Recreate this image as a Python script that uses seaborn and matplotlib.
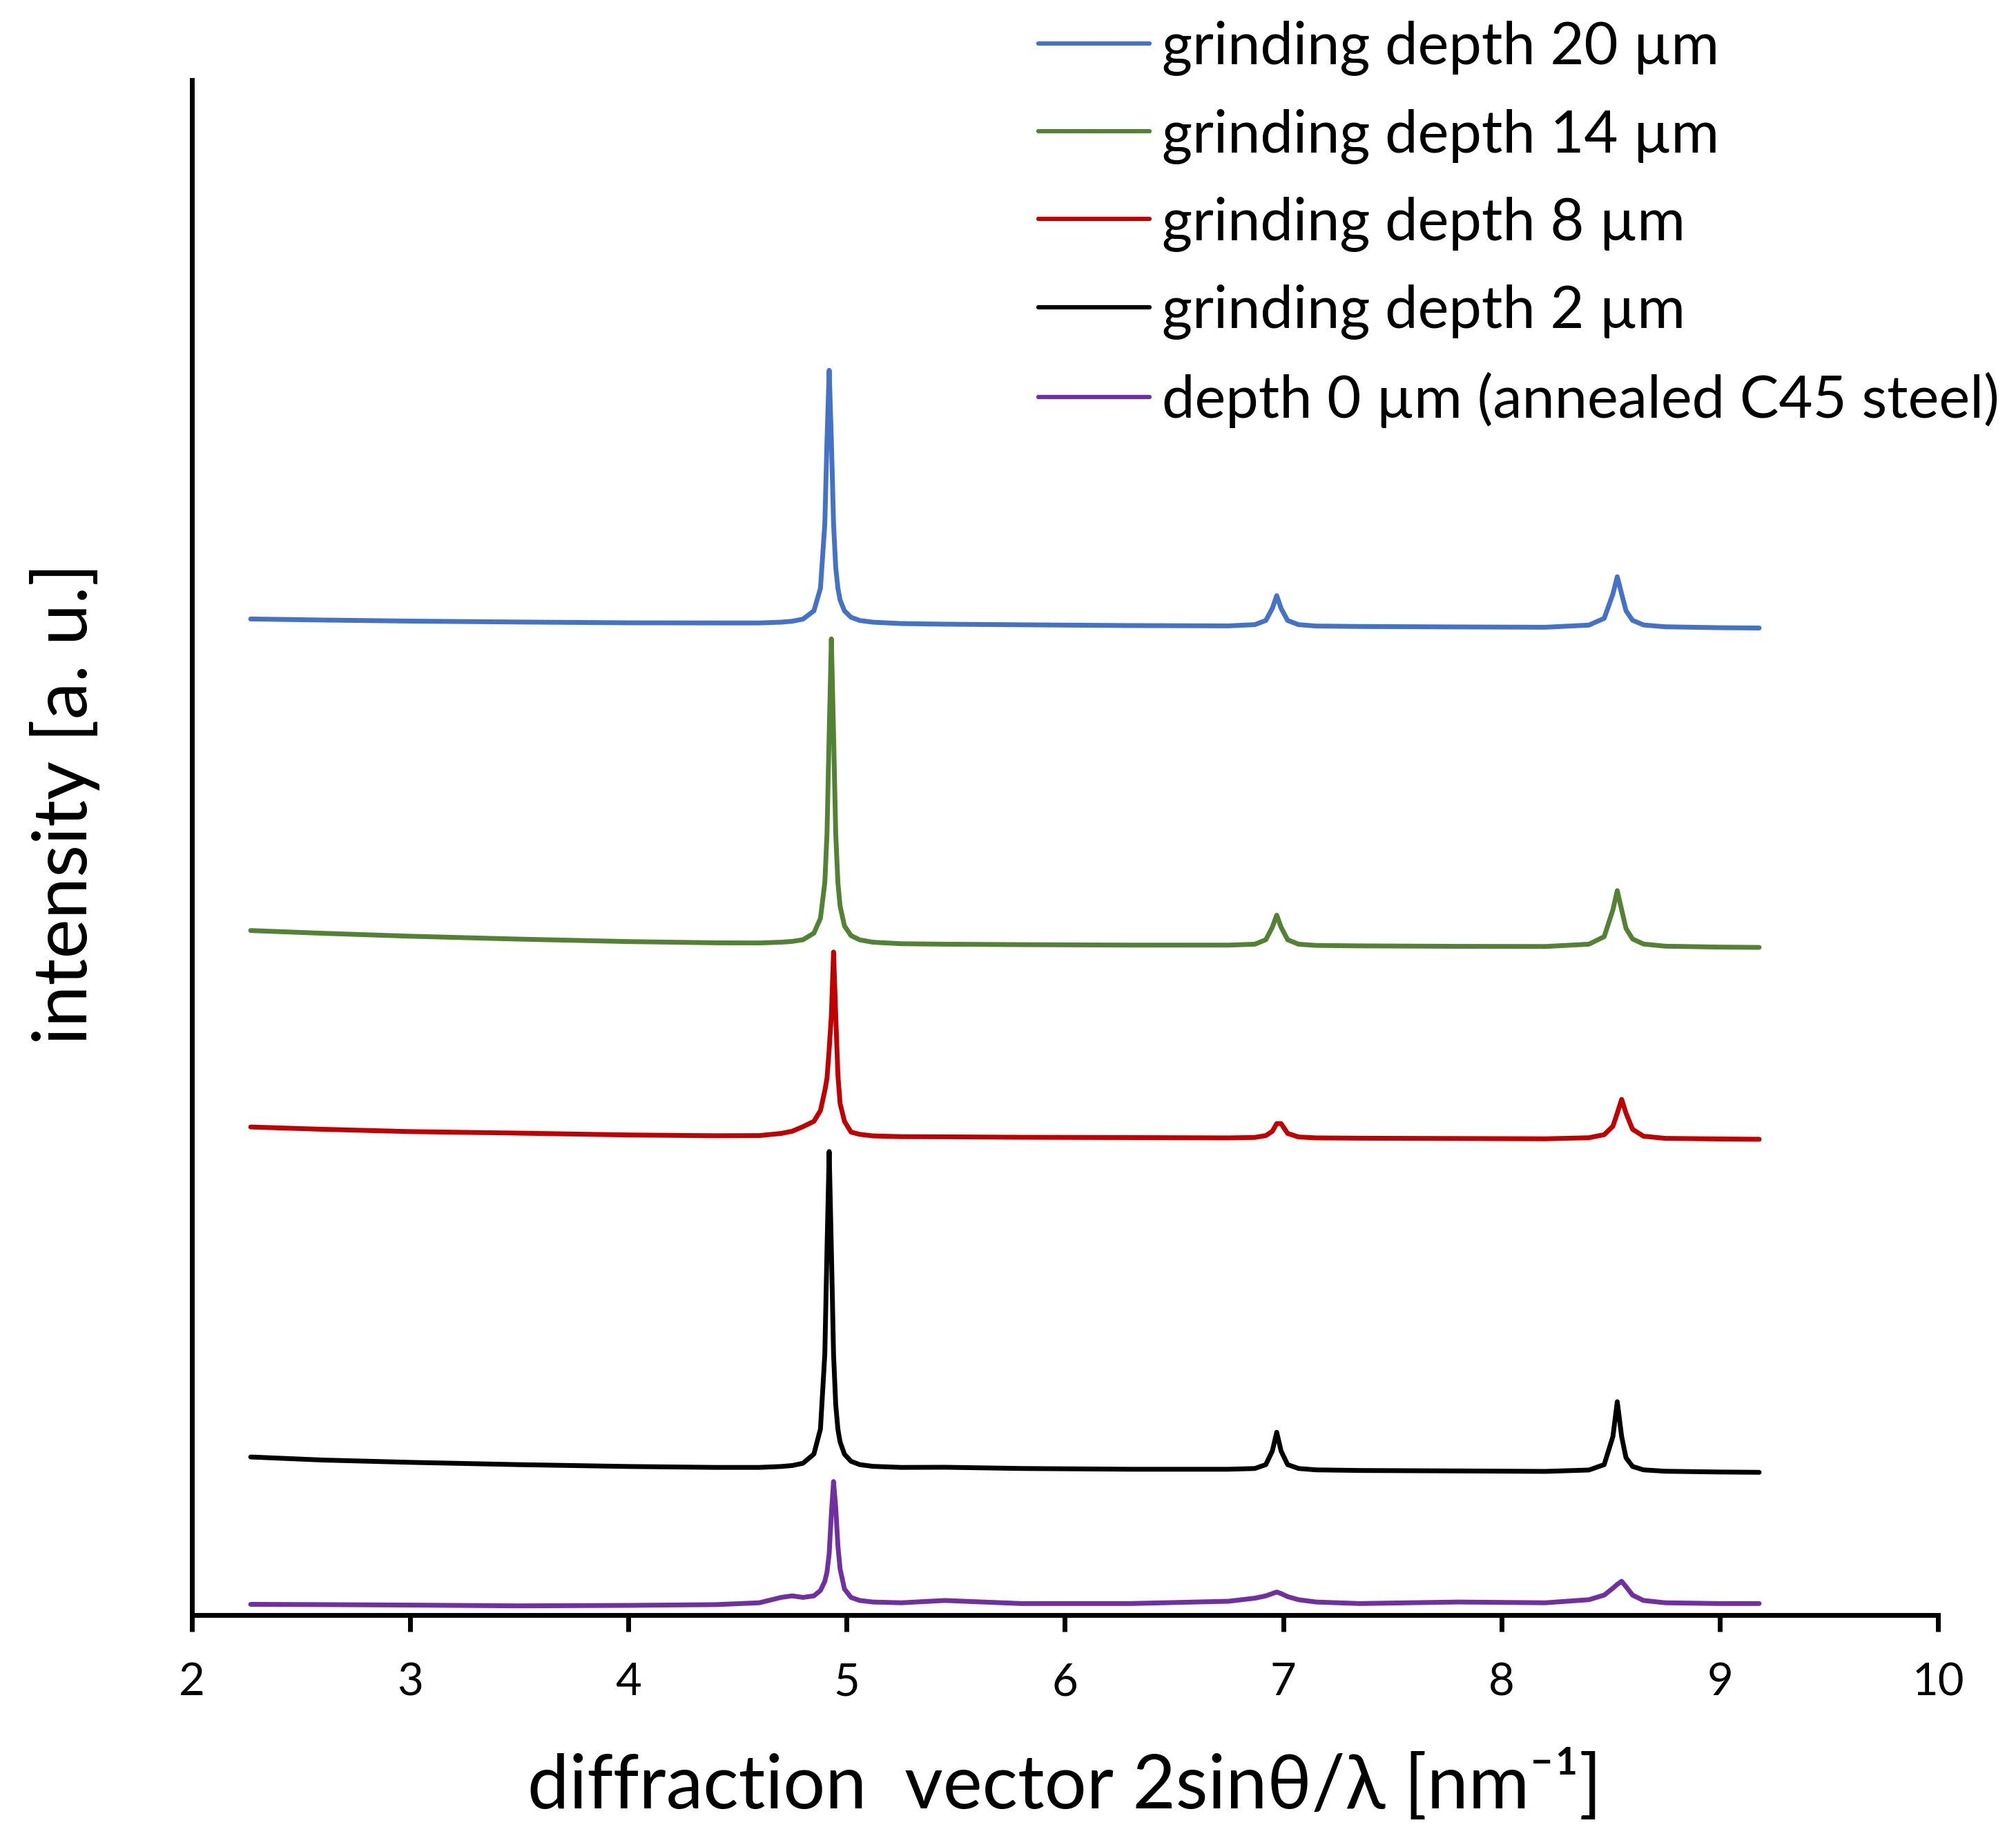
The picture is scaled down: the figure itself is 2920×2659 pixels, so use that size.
import numpy as np
import pandas as pd
import matplotlib
matplotlib.use("Agg")
import matplotlib.pyplot as plt
import seaborn as sns

# ---------------- data ----------------
x_grid = [2.27, 2.6, 3.0, 3.5, 4.0, 4.4, 4.6, 4.7, 4.75, 4.8,
          4.85, 4.88, 4.90, 4.91, 4.92, 4.93, 4.94, 4.95, 4.96, 4.97,
          4.99, 5.02, 5.06, 5.12, 5.25, 5.45, 5.8, 6.3, 6.75, 6.87,
          6.92, 6.95, 6.97, 6.99, 7.02, 7.07, 7.15, 7.35, 7.8, 8.2,
          8.4, 8.47, 8.51, 8.53, 8.55, 8.57, 8.60, 8.65, 8.75, 9.0,
          9.18]

depth_20 = [649, 648.3, 647.6, 647.0, 646.5, 646.4, 646.4, 646.9, 647.5, 648.9,
            654.3, 669, 711, 765.5, 811, 765.5, 711, 682.5, 669, 661.3,
            654.3, 650.1, 648, 646.9, 646, 645.6, 645.2, 644.7, 644.5, 645.3,
            648, 655.9, 664.2, 655.9, 648, 645.3, 644.4, 644.1, 643.8, 643.6,
            645, 649.4, 665.3, 676.5, 665.3, 654.4, 648.1, 645.1, 643.9, 643.3,
            643.1]

depth_14 = [446, 444.2, 442.3, 440.4, 438.8, 438, 437.9, 438.4, 438.9, 440,
            444.3, 454, 477.2, 509, 574.5, 636, 574.4, 508.9, 477.1, 461.8,
            449, 442.7, 439.9, 438.4, 437.4, 437.1, 436.8, 436.5, 436.5, 437.1,
            440, 448.2, 456, 448.2, 440, 437.1, 436.3, 436, 435.7, 435.6,
            437.1, 442, 459.5, 472, 459.5, 447.4, 440.5, 437.2, 435.8, 435.2,
            435]

depth_8 = [318, 316.5, 315, 314, 312.8, 312.3, 312.4, 313.8, 315.2, 318.2,
           321.7, 328.7, 341.7, 349.7, 368.7, 390.7, 432, 390.7, 351.7, 333.3,
           321.7, 314.7, 313.2, 312.2, 311.7, 311.6, 311.3, 311.1, 310.9, 311.2,
           312.4, 315.2, 320.2, 320.2, 313.8, 311.5, 310.9, 310.7, 310.5, 310.3,
           311, 313, 318.5, 327, 336, 327, 316.5, 312, 310.6, 310.2,
           310]

depth_2 = [103, 101, 99.5, 98, 96.8, 96.2, 96.2, 96.8, 97.4, 98.9,
           104.9, 121.2, 170, 238.3, 302, 238.2, 170, 137, 121, 112.8,
           104.8, 100.2, 98, 96.9, 96.2, 96.3, 95.5, 95, 95, 95.5,
           98, 106.9, 119.1, 106.9, 98, 95.5, 94.6, 94.2, 93.9, 93.6,
           94.5, 98, 116.3, 139, 116.3, 102.5, 96.8, 94.6, 93.7, 93.2,
           93]

depth_0 = [7, 6.8, 6.5, 6, 6.3, 6.8, 8, 11.5, 12.5, 11.5,
           12.5, 16, 22, 28, 40, 66, 87, 70, 45, 30,
           17, 11.5, 9.5, 8.5, 8, 9.5, 7.5, 7.5, 9, 11,
           12.5, 14, 15, 14, 12, 10, 8.5, 7.5, 8.5, 8,
           10, 13, 17.5, 20, 22, 18.5, 13, 9.5, 8, 7.5,
           7.5]

series_labels = ["grinding depth 20 µm", "grinding depth 14 µm",
                 "grinding depth 8 µm", "grinding depth 2 µm",
                 "depth 0 µm (annealed C45 steel)"]
series_values = [depth_20, depth_14, depth_8, depth_2, depth_0]
series_colors = ["#4472C4", "#548235", "#C00000", "#000000", "#7030A0"]
x_ticks = [2, 3, 4, 5, 6, 7, 8, 9, 10]

# ---------------- figure ----------------
sns.set_theme(style="white")
plt.rcParams["font.family"] = ["Lato", "DejaVu Sans"]
plt.rcParams["text.color"] = "black"
plt.rcParams["axes.labelcolor"] = "black"
plt.rcParams["xtick.color"] = "black"

frames = []
for lab, vals in zip(series_labels, series_values):
    frames.append(pd.DataFrame({"x": x_grid, "intensity": vals, "sample": lab}))
df = pd.concat(frames, ignore_index=True)

fig = plt.figure(figsize=(29.2, 26.59), dpi=100)
ax = fig.add_axes([0.0951, 0.12034, 0.8663, 0.83596])

sns.lineplot(data=df, x="x", y="intensity", hue="sample",
             hue_order=series_labels, palette=series_colors,
             estimator=None, sort=False, linewidth=5, ax=ax)

ax.set_xlim(2, 10)
ax.set_ylim(0, 1000)
ax.set_xticks(x_ticks)
ax.set_xticklabels([str(t) for t in x_ticks])
ax.set_yticks([])

for side in ["top", "right"]:
    ax.spines[side].set_visible(False)
for side in ["left", "bottom"]:
    ax.spines[side].set_color("black")
    ax.spines[side].set_linewidth(5)
    ax.spines[side].set_capstyle("projecting")

ax.tick_params(axis="x", direction="out", length=17, width=5, color="black",
               pad=32, labelsize=47, bottom=True)

ax.set_xlabel("diffraction  vector 2sinθ/λ [nm⁻¹]", fontsize=77.5)
ax.xaxis.set_label_coords(0.5, -0.0873)
ax.set_ylabel("intensity [a. u.]", fontsize=78)
ax.yaxis.set_label_coords(-0.0525, 0.5286)

handles, labels = ax.get_legend_handles_labels()
leg = ax.legend(handles, labels, loc="upper left",
                bbox_to_anchor=(0.515, 0.989), bbox_transform=fig.transFigure,
                frameon=False, fontsize=61, handlelength=1.9,
                handletextpad=0.22, labelspacing=0.56,
                borderpad=0, borderaxespad=0)
for ln in leg.get_lines():
    ln.set_linewidth(4.5)

fig.savefig("out.png", dpi=100)
